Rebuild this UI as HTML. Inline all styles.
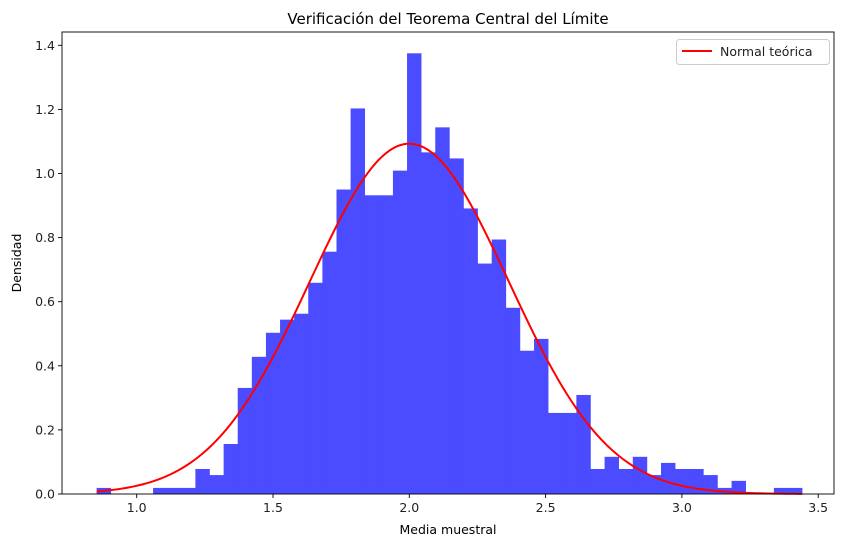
<!DOCTYPE html>
<html><head><meta charset="utf-8"><style>
body{margin:0;background:#fff;}
svg{display:block;font-family:"DejaVu Sans","Liberation Sans",sans-serif;}
</style></head><body>
<svg id="chart" width="846" height="547"></svg>
<script>
const binStart = 0.853;
const binWidth = 0.05176;
const densities = [0.019,0,0,0,0.019,0.019,0.019,0.078,0.059,0.156,0.331,0.428,0.503,0.544,0.5625,0.659,0.756,0.95,1.203,0.932,0.932,1.009,1.375,1.066,1.144,1.047,0.891,0.719,0.794,0.581,0.447,0.484,0.253,0.253,0.309,0.078,0.116,0.078,0.116,0.059,0.097,0.078,0.078,0.059,0.019,0.041,0,0,0.019,0.019];
const normalMean = 2.0;
const normalSigma = 0.365;
const xTicks = [1.0,1.5,2.0,2.5,3.0,3.5];
const yTicks = [0.0,0.2,0.4,0.6,0.8,1.0,1.2,1.4];

const NS="http://www.w3.org/2000/svg";
const svg=document.getElementById('chart');
const L=62,R=834,T=32,B=494;
function xs(v){return 136.7+(v-1)*272.6;}
function ys(v){return B-v*320.5;}
function mk(tag,attrs,parent){const e=document.createElementNS(NS,tag);for(const k in attrs)e.setAttribute(k,attrs[k]);(parent||svg).appendChild(e);return e;}

const bars=mk('g',{});


densities.forEach((d,i)=>{
  if(d<=0)return;
  const x0=xs(binStart+i*binWidth),x1=xs(binStart+(i+1)*binWidth);
  const r=mk('rect',{x:x0,y:ys(d),width:x1-x0+0.3,height:B-ys(d),fill:'#4b4bff'},bars);
  
  
});

let pts=[];
const xEnd=binStart+densities.length*binWidth;
for(let k=0;k<=200;k++){
  const x=binStart+(xEnd-binStart)*k/200;
  const y=Math.exp(-0.5*((x-normalMean)/normalSigma)**2)/(normalSigma*Math.sqrt(2*Math.PI));
  pts.push(xs(x).toFixed(2)+','+ys(y).toFixed(2));
}
const curve=mk('polyline',{points:pts.join(' '),fill:'none',stroke:'#ff0000','stroke-width':2});



const frame=mk('rect',{x:L,y:T,width:R-L,height:B-T,fill:'none',stroke:'#000','stroke-width':0.9});



xTicks.forEach(t=>{
  const x=xs(t);
  mk('line',{x1:x,x2:x,y1:B,y2:B+4,stroke:'#000','stroke-width':0.9});
  const tx=mk('text',{x:x,y:B+18,'text-anchor':'middle','font-size':12.5,fill:'#222'});
  tx.textContent=t.toFixed(1);
  
  
});
yTicks.forEach(t=>{
  const y=ys(t);
  mk('line',{x1:L-4,x2:L,y1:y,y2:y,stroke:'#000','stroke-width':0.9});
  const tx=mk('text',{x:L-7,y:y+4.5,'text-anchor':'end','font-size':12.5,fill:'#222'});
  tx.textContent=t.toFixed(1);
  
  
});

const title=mk('text',{x:(L+R)/2,y:24,'text-anchor':'middle','font-size':15,fill:'#000'});
title.textContent='Verificación del Teorema Central del Límite';



const xl=mk('text',{x:(L+R)/2,y:534,'text-anchor':'middle','font-size':12.5,fill:'#000'});
xl.textContent='Media muestral';



const yl=mk('text',{x:21,y:(T+B)/2,'text-anchor':'middle','font-size':12.5,fill:'#000',transform:'rotate(-90 21 '+((T+B)/2)+')'});
yl.textContent='Densidad';



const lg=mk('g',{});


mk('rect',{x:676.5,y:39.5,width:153,height:25,rx:3,fill:'#fff',stroke:'#ccc','stroke-width':1},lg);
mk('line',{x1:682,x2:712,y1:51,y2:51,stroke:'#ff0000','stroke-width':2},lg);
const lt=mk('text',{x:720,y:56,'font-size':12.5,fill:'#222'},lg);
lt.textContent='Normal teórica';


</script>
</body></html>
